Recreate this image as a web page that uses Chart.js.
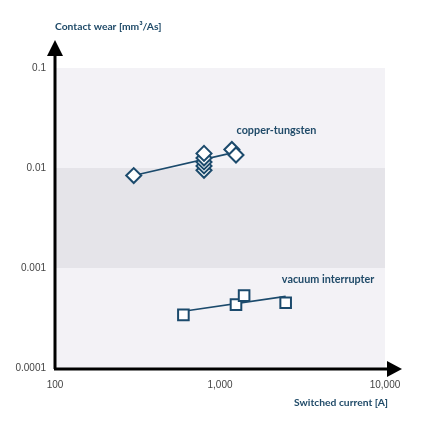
<!DOCTYPE html>
<html>
<head>
<meta charset="utf-8">
<script src="https://cdn.jsdelivr.net/npm/chart.js@4"></script>
<style>
  html, body { margin: 0; padding: 0; background: #fff; }
  #wrap { width: 432px; height: 422px; }
</style>
</head>
<body>
<div id="wrap"><canvas id="myChart" width="432" height="422"></canvas></div>
<script>
// data
const cuwCurrent = [300, 800, 800, 800, 800, 800, 1180, 1250];
const cuwWear = [0.0084, 0.0095, 0.0105, 0.0115, 0.0126, 0.0140, 0.0153, 0.0135];
const cuwFitCurrent = [300, 1150];
const cuwFitWear = [0.0084, 0.0140];

const vacCurrent = [600, 1250, 1400, 2500];
const vacWear = [0.00034, 0.00043, 0.00053, 0.00045];
const vacFitCurrent = [600, 2500];
const vacFitWear = [0.00037, 0.00052];

const xTicks = [100, 1000, 10000];
const yTicks = [0.0001, 0.001, 0.01, 0.1];

const navy = '#1b4a6c';
const textBlue = '#1f4a68';

function pts(xs, ys) {
    return xs.map(function(x, i) { return {x: x, y: ys[i]}; });
}

// bands + arrows + titles
const decor = {
    id: 'decor',
    beforeDatasetsDraw: function(chart) {
        const c = chart.ctx;
        const y = chart.scales.y;
        const a = chart.chartArea;
        const bands = [[0.01, 0.1, '#f3f2f6'], [0.001, 0.01, '#e5e4e9'], [0.0001, 0.001, '#f3f2f6']];
        c.save();
        bands.forEach(function(b) {
            const t = y.getPixelForValue(b[1]), bt = y.getPixelForValue(b[0]);
            c.fillStyle = b[2];
            c.fillRect(a.left, t, a.right - a.left, bt - t);
        });
        c.restore();
    },
    afterDraw: function(chart) {
        const c = chart.ctx;
        const a = chart.chartArea;
        c.save();
        c.strokeStyle = '#000';
        c.fillStyle = '#000';
        c.lineWidth = 3;
        c.beginPath();
        c.moveTo(a.left, a.bottom + 1);
        c.lineTo(a.left, a.top - 12);
        c.moveTo(a.left - 1, a.bottom + 1);
        c.lineTo(a.right + 3, a.bottom + 1);
        c.stroke();
        // y arrow
        c.beginPath();
        c.moveTo(a.left, a.top - 28);
        c.lineTo(a.left - 8, a.top - 12);
        c.lineTo(a.left + 8, a.top - 12);
        c.closePath();
        c.fill();
        // x arrow
        c.beginPath();
        c.moveTo(a.right + 17, a.bottom + 1);
        c.lineTo(a.right + 2, a.bottom - 7);
        c.lineTo(a.right + 2, a.bottom + 9);
        c.closePath();
        c.fill();

        c.fillStyle = textBlue;
        c.font = 'bold 10.3px Lato';
        c.textBaseline = 'middle';
        c.textAlign = 'left';
        c.fillText('Contact wear [mm³/As]', a.left, 27);
        c.textAlign = 'right';
        c.fillText('Switched current [A]', a.right + 3, 403);

        // series labels
        const xs = chart.scales.x, ys = chart.scales.y;
        c.font = 'bold 10.8px Lato';
        c.textAlign = 'left';
        c.fillText('copper-tungsten', xs.getPixelForValue(1260), ys.getPixelForValue(0.0236));
        c.fillText('vacuum interrupter', xs.getPixelForValue(2370), ys.getPixelForValue(0.00077));
        c.restore();
    }
};

const ctx = document.getElementById('myChart').getContext('2d');
const chart = new Chart(ctx, {
    type: 'scatter',
    data: {
        datasets: [
            {
                label: 'copper-tungsten',
                data: pts(cuwCurrent, cuwWear),
                pointStyle: 'rectRot',
                pointRadius: 7.5,
                borderWidth: 2,
                borderColor: navy,
                backgroundColor: '#fff',
                order: 1
            },
            {
                label: 'vacuum interrupter',
                data: pts(vacCurrent, vacWear),
                pointStyle: 'rect',
                pointRadius: 7.5,
                borderWidth: 2,
                borderColor: navy,
                backgroundColor: '#fff',
                order: 1
            },
            {
                label: 'cuw fit',
                data: pts(cuwFitCurrent, cuwFitWear),
                showLine: true,
                pointRadius: 0,
                borderWidth: 1.6,
                borderColor: navy,
                order: 2
            },
            {
                label: 'vac fit',
                data: pts(vacFitCurrent, vacFitWear),
                showLine: true,
                pointRadius: 0,
                borderWidth: 1.6,
                borderColor: navy,
                order: 2
            }
        ]
    },
    options: {
        responsive: false,
        animation: false,
        layout: { padding: { top: 68, right: 47, left: 0, bottom: 0 } },
        plugins: { legend: { display: false }, tooltip: { enabled: false } },
        scales: {
            x: {
                type: 'logarithmic',
                min: 100,
                max: 10000,
                grid: { display: false, drawTicks: false },
                border: { display: false },
                afterFit: function(s) { s.height = 54; },
                afterBuildTicks: function(s) {
                    s.ticks = xTicks.map(function(v) { return {value: v}; });
                },
                ticks: {
                    padding: 11,
                    color: '#444',
                    font: { family: 'Liberation Sans', size: 10 },
                    maxRotation: 0,
                    callback: function(v) { return Number(v).toLocaleString('en-US'); }
                }
            },
            y: {
                type: 'logarithmic',
                min: 0.0001,
                max: 0.1,
                grid: { display: false, drawTicks: false },
                border: { display: false },
                afterFit: function(s) { s.width = 55; },
                afterBuildTicks: function(s) {
                    s.ticks = yTicks.map(function(v) { return {value: v}; });
                },
                ticks: {
                    padding: 9,
                    color: '#444',
                    font: { family: 'Liberation Sans', size: 10 },
                    callback: function(v) { return String(v); }
                }
            }
        }
    },
    plugins: [decor]
});
</script>
</body>
</html>
